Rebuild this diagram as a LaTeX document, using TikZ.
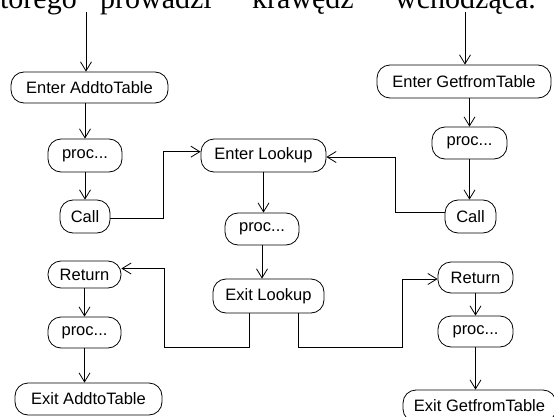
\documentclass[tikz,border=0pt]{standalone}
\usepackage{fontspec}
\newfontfamily\uifont{Liberation Sans}
\newfontfamily\serifont{Liberation Serif}
\usetikzlibrary{arrows.meta}
\tikzset{
  box/.style={draw, line width=0.8pt, rounded corners=13pt, inner sep=0pt,
    font=\uifont\fontsize{16.5}{19}\selectfont, minimum height=33pt},
  arr/.style={draw, line width=0.8pt, -{Straight Barb[length=9pt,width=11pt,line width=0.8pt]}},
  word/.style={anchor=base west, inner sep=0pt, font=\serifont\fontsize{30}{30}\selectfont}
}
\begin{document}
\begin{tikzpicture}[x=1pt,y=-1pt]
\useasboundingbox (0,0) rectangle (554,417);
\clip (0,0) rectangle (554,417);
\fill[white] (0,0) rectangle (554,417);
% cut-off line of text above
\node[word, anchor=base east] (w1) at (77,8.3) {którego};
\node[word] (w2) at (100,8.3) {prowadzi};
\node[word] (w3) at (252,8.3) {krawędź};
\node[word] (w4) at (395,8.3) {wchodząca.};
% left procedure
\node[box, minimum width=157pt, minimum height=31pt] (e1) at (89.5,87.5) {Enter AddtoTable};
\node[box, minimum width=74pt] (p1) at (85,155.5) {proc...};
\node[box, minimum width=50pt] (c1) at (85,216.5) {Call};
\node[box, minimum width=73pt, minimum height=27pt] (r1) at (84.5,274.5) {Return};
\node[box, minimum width=73pt, minimum height=31pt] (p3) at (84.5,332.5) {proc...};
\node[box, minimum width=147pt, minimum height=32pt] (x1) at (88.5,399) {Exit AddtoTable};
% middle procedure
\node[box, minimum width=125pt] (el) at (263.5,155.5) {Enter Lookup};
\node[box, minimum width=74pt, minimum height=32pt] (pm) at (262,229) {proc...};
\node[box, minimum width=111pt, minimum height=34pt] (xl) at (268.5,296) {Exit Lookup};
% right procedure
\node[box, minimum width=174pt] (eg) at (464,81.5) {Enter GetfromTable};
\node[box, minimum width=75pt, minimum height=32pt] (p2) at (469.5,143) {proc...};
\node[box, minimum width=51pt] (c2) at (470.5,216.5) {Call};
\node[box, minimum width=75pt, minimum height=31pt] (r2) at (475.5,277.5) {Return};
\node[box, minimum width=75pt, minimum height=31pt] (p4) at (475.5,331.5) {proc...};
\node[box, minimum width=153pt, minimum height=32pt] (x2) at (479.5,406) {Exit GetfromTable};
% free ends of incoming edges
\coordinate (t1) at (86,12);
\coordinate (t2) at (465,12);
% connectors
\draw[arr] (t1) -- (t1 |- e1.north);
\draw[arr] (p1.north |- e1.south) -- (p1.north);
\draw[arr] (p1.south) -- (c1.north);
\draw[arr] ([yshift=-1.5pt]c1.east) -- ++(53,0) |- ([yshift=3.8pt]el.west);
\draw[arr] (el.south) -- (el.south |- pm.north);
\draw[arr] (pm.south) -- (pm.south |- xl.north);
\draw[arr] ([xshift=-19.5pt]xl.south) -- ++(0,34) -- ++(-85,0) |- ([yshift=6pt]r1.east);
\draw[arr] (r1.south) -- (p3.north);
\draw[arr] (p3.south) -- (p3.south |- x1.north);
\draw[arr] (t2) -- (t2 |- eg.north);
\draw[arr] (p2.north |- eg.south) -- (p2.north);
\draw[arr] (p2.south) -- (p2.south |- c2.north);
\draw[arr] ([yshift=3.8pt]c2.west) -- ++(-49,0) |- ([yshift=-1.5pt]el.east);
\draw[arr] ([xshift=29.5pt]xl.south) -- ++(0,34) -- ++(104,0) |- ([yshift=-1.5pt]r2.west);
\draw[arr] (r2.south) -- (p4.north);
\draw[arr] (p4.south) -- (p4.south |- x2.north);
\end{tikzpicture}
\end{document}
